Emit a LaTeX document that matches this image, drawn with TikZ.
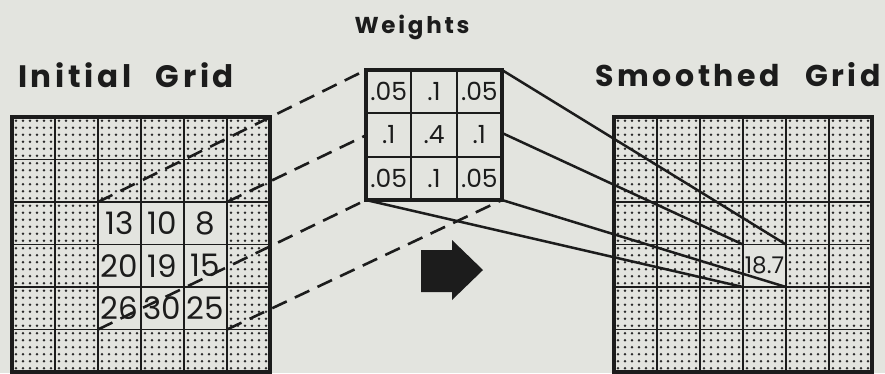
\documentclass[tikz,border=0pt]{standalone}
\usepackage{fontspec}
\setmainfont{Poppins}
\newfontfamily\headfont[LetterSpace=12]{Poppins}
\usepackage{tikz}
\usetikzlibrary{positioning}
\definecolor{paper}{HTML}{E3E4DF}
\definecolor{ink}{HTML}{1C1C1C}
\definecolor{dotgray}{HTML}{2A2A2A}
\tikzset{
  gridline/.style={line width=1.8pt, draw=ink},
  gridframe/.style={line width=3.8pt, draw=ink},
  numcell/.style={
    rectangle, fill=paper, minimum width=43pt, minimum height=42.5pt,
    inner sep=0pt, outer sep=0pt, text=ink,
    font=\fontsize{31}{31}\selectfont
  },
  weightcell/.style={
    rectangle, fill=paper, draw=ink, line width=1.8pt,
    minimum width=45.33pt, minimum height=43.33pt,
    inner sep=0pt, outer sep=0pt, text=ink,
    font=\fontsize{25}{25}\selectfont
  },
  blockbox/.style={rectangle, inner sep=0pt, outer sep=0pt},
  headline/.style={text=ink, font=\headfont\bfseries\fontsize{30}{30}\selectfont},
  dashlink/.style={line width=2.6pt, draw=ink, dash pattern=on 16pt off 9pt},
  solidlink/.style={line width=2.5pt, draw=ink},
}

\begin{document}
\begin{tikzpicture}[x=1pt, y=-1pt]
  \useasboundingbox (0,0) rectangle (885,373);
  \fill[paper] (0,0) rectangle (885,373);

  % --- dotted cells, both grids ---
  \foreach \gx in {12, 614}
    \foreach \c in {0,...,5}
      \foreach \r in {0,...,5}
        \foreach \i in {0,...,5}
          \foreach \j in {0,...,5}
            \fill[dotgray] ({\gx+43*\c+4+7*\i}, {117+42.5*\r+3.75+7*\j}) circle (1.3);

  % --- Initial grid: values ---
  \node[numcell] (c13) at (119.5,223.25) {13};
  \node[numcell, right=0pt of c13] (c10) {10};
  \node[numcell, right=0pt of c10] (c8)  {8};
  \node[numcell, below=0pt of c13] (c20) {20};
  \node[numcell, right=0pt of c20] (c19) {19};
  \node[numcell, right=0pt of c19] (c15) {15};
  \node[numcell, below=0pt of c20] (c26) {26};
  \node[numcell, right=0pt of c26] (c30) {30};
  \node[numcell, right=0pt of c30] (c25) {25};
  \node[blockbox, minimum width=129pt, minimum height=127.5pt] (blk) at (c19) {};

  % --- Smoothed grid: result cell ---
  \node[numcell, font=\fontsize{23}{23}\selectfont] (res) at (764.5,265.75) {18.7};

  % --- grid lines ---
  \foreach \gx in {12, 614} {
    \foreach \k in {1,...,5} {
      \draw[gridline] ({\gx+43*\k},117) -- ++(0,255);
      \draw[gridline] (\gx,{117+42.5*\k}) -- ++(258,0);
    }
    \draw[gridframe] (\gx,117) rectangle ++(258,255);
  }

  % --- Weights box ---
  \node[blockbox, minimum width=136pt, minimum height=130pt] (wts) at (434,135) {};

  % --- links: initial grid -> weights -> smoothed grid ---
  \draw[dashlink] (blk.north west) -- (wts.north west);
  \draw[dashlink] (blk.north east) -- (wts.north east);
  \draw[dashlink] (blk.south west) -- (wts.south west);
  \draw[dashlink] (blk.south east) -- (wts.south east);
  \draw[solidlink] (wts.north west) -- (res.north west);
  \draw[solidlink] (wts.north east) -- (res.north east);
  \draw[solidlink] (wts.south west) -- (res.south west);
  \draw[solidlink] (wts.south east) -- (res.south east);

  % --- weight values ---
  \node[weightcell] (w11) at (388.67,91.67) {.05};
  \node[weightcell, right=0pt of w11] (w12) {.1};
  \node[weightcell, right=0pt of w12] (w13) {.05};
  \node[weightcell, below=0pt of w11] (w21) {.1};
  \node[weightcell, right=0pt of w21] (w22) {.4};
  \node[weightcell, right=0pt of w22] (w23) {.1};
  \node[weightcell, below=0pt of w21] (w31) {.05};
  \node[weightcell, right=0pt of w31] (w32) {.1};
  \node[weightcell, right=0pt of w32] (w33) {.05};
  \draw[gridframe] (wts.north west) rectangle (wts.south east);

  % --- big arrow ---
  \fill[ink] (421,250) -- (452,250) -- (452,240) -- (483,270)
    -- (452,300) -- (452,292) -- (421,292) -- cycle;

  % --- titles ---
  \node[headline, font=\headfont\bfseries\fontsize{31}{31}\selectfont] (tinit) at (126,75)
    {Initial\hspace{0.45em} Grid};
  \node[headline, font=\headfont\bfseries\fontsize{23}{23}\selectfont] (twts) at (412,27) {Weights};
  \node[headline] (tsmth) at (738,75) {Smoothed\hspace{0.5em} Grid};

\end{tikzpicture}
\end{document}
